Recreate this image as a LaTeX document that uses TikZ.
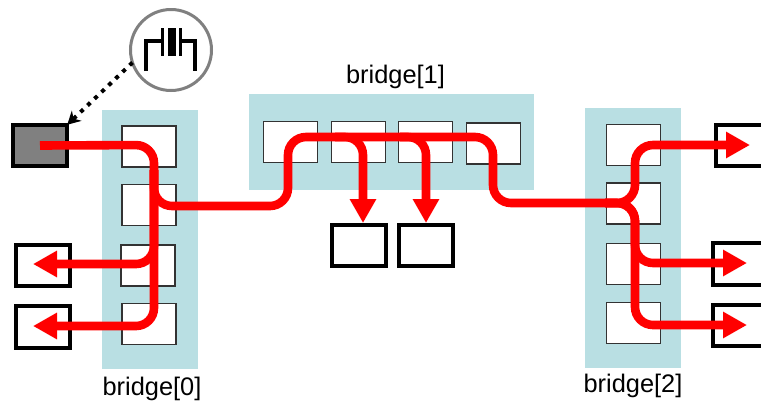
\documentclass[tikz,border=0pt]{standalone}
\usepackage{fontspec}
\setmainfont{Liberation Sans}
\usetikzlibrary{arrows.meta}

\begin{document}
\begin{tikzpicture}
[x=1pt,y=-1pt,>={Triangle[length=24pt,width=25pt]},
bridge/.style = {fill = bridgeteal, inner sep = 0pt, outer sep = 0pt},
cell/.style = {draw = black!80, fill = white, line width = 1.1pt, inner sep = 0pt, outer sep = 0pt, minimum width = 54pt, minimum height = 41pt},
port/.style = {draw, line width = 4pt, fill = white, inner sep = 0pt, outer sep = 0pt, minimum width = 54.5pt, minimum height = 41.5pt},
bus/.style = {draw = red, line width = 8.6pt, rounded corners = 18pt},
lab/.style = {font = \fontsize{25.4}{25.4}\selectfont, inner sep = 0pt},
lead/.style = {line width = 3.4pt},
]
\definecolor{bridgeteal}{RGB}{185,223,227}
\clip (0,0) rectangle (761,402);

% bridges
\node (bridge0) at (150,239.5)[bridge,minimum width=96pt,minimum height=259pt,label={[lab,label distance=8pt,xshift=2pt]below:bridge[0]}] {};
\node (bridge1) at (391.5,142)[bridge,minimum width=285pt,minimum height=96pt,label={[lab,label distance=5pt,xshift=4pt]above:bridge[1]}] {};
\node (bridge2) at (633,238)[bridge,minimum width=96pt,minimum height=260pt,label={[lab,label distance=6pt]below:bridge[2]}] {};

\node (c00) at (149,146.5)[cell] {};
\node (c01) at (149,205)[cell] {};
\node (c02) at (148,265.5)[cell] {};
\node (c03) at (149,324)[cell] {};
\node (c10) at (290.5,142)[cell] {};
\node (c11) at (358.5,142)[cell] {};
\node (c12) at (425.5,142)[cell] {};
\node (c13) at (493.5,143.5)[cell] {};
\node (c20) at (633.5,145)[cell] {};
\node (c21) at (633.5,203.5)[cell] {};
\node (c22) at (633.5,264)[cell] {};
\node (c23) at (633.5,323)[cell] {};

% ports
\node (src) at (40,145.5)[port,fill=black!50] {};
\node (outa) at (43,265.5)[port] {};
\node (outb) at (43,327)[port] {};
\node (outc) at (359,245.5)[port] {};
\node (outd) at (426,245.5)[port] {};
\node (oute) at (743,145.5)[port] {};
\node (outf) at (740,264)[port] {};
\node (outg) at (740,325.5)[port] {};

% crystal
\node (xtal) at (171,50)[draw=black!50,line width=3pt,fill=white,circle,inner sep=0pt,outer sep=0pt,minimum size=81pt] {};
\draw[lead] (146,71)--(146,41)--(162.5,41);
\draw[lead] (162.5,28)--(162.5,56);
\fill (168,28) rectangle (176,56);
\draw[lead] (180.5,28)--(180.5,56);
\draw[lead] (180.5,41)--(195,41)--(195,71);
\draw[line width=4pt,dash pattern=on 4pt off 5.7pt,-{Stealth[length=13pt,width=14pt]}] (xtal.198)--(src.north east);

% corners of the red routes
\coordinate (k0t) at (154,145);
\coordinate (k0s) at (154,170);
\coordinate (k0a) at (154,264);
\coordinate (k0b) at (154,326);
\coordinate (k0j) at (154,206);
\coordinate (k1a) at (288,206);
\coordinate (k1b) at (288,137);
\coordinate (k1e) at (493,137);
\coordinate (k1f) at (493,203);
\coordinate (k2s) at (605,203);
\coordinate (k2j) at (635,203);
\coordinate (k2t) at (635,145);
\coordinate (k2c) at (635,263);
\coordinate (k2b) at (635,325);
\coordinate (d1s) at (335,137);
\coordinate (d1k) at (363,137);
\coordinate (d2s) at (400,137);
\coordinate (d2k) at (426,137);
\coordinate (tipa) at (33,264);
\coordinate (tipb) at (33,326);
\coordinate (tipc) at (363,223);
\coordinate (tipd) at (426,223);
\coordinate (tipe) at (750,145);
\coordinate (tipf) at (747,263);
\coordinate (tipg) at (747,325);

\draw[bus,->] (src.center)--(k0t)--(k0b)--(tipb);
\draw[bus,->] (k0s)--(k0a)--(tipa);
\draw[bus] (k0s)--(k0j)--(k1a)--(k1b)--(k1e)--(k1f)--(k2s);
\draw[bus,->] (d1s)--(d1k)--(tipc);
\draw[bus,->] (d2s)--(d2k)--(tipd);
\draw[bus,->] (k2s)--(k2j)--(k2t)--(tipe);
\draw[bus,->] (k2s)--(k2j)--(k2b)--(tipg);
\draw[bus,->] (k2s)--(k2j)--(k2c)--(tipf);

\end{tikzpicture}
\end{document}
